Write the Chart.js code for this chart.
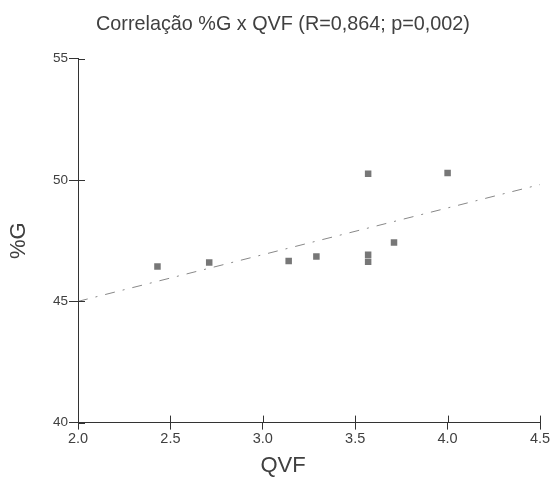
<!DOCTYPE html>
<html>
<head>
<meta charset="utf-8">
<script src="https://cdn.jsdelivr.net/npm/chart.js@4/dist/chart.umd.min.js"></script>
<style>
  body { margin: 0; background: #fff; }
  canvas { display: block; }
</style>
</head>
<body>
<canvas id="corrChart" width="554" height="486"></canvas>
<script>
// values
const qvf = [2.43, 2.71, 3.14, 3.29, 3.57, 3.57, 3.57, 3.71, 4.0];
const pctG = [46.44, 46.6, 46.66, 46.85, 50.26, 46.92, 46.63, 47.42, 50.29];
const xTicks = [2.0, 2.5, 3.0, 3.5, 4.0, 4.5];
const yTicks = [40, 45, 50, 55];
const titleText = "Correlação %G x QVF (R=0,864; p=0,002)";
const xTitle = "QVF";
const yTitle = "%G";

const fontFamily = "'Liberation Sans', Arial, sans-serif";
const textColor = "#404040";
const axisColor = "#333";

// least squares fit, drawn across the x axis range
const n = qvf.length;
const mx = qvf.reduce((a, b) => a + b, 0) / n;
const my = pctG.reduce((a, b) => a + b, 0) / n;
let sxy = 0, sxx = 0;
qvf.forEach((x, i) => {
  sxy += (x - mx) * (pctG[i] - my);
  sxx += (x - mx) * (x - mx);
});
const slope = sxy / sxx;
const intercept = my - slope * mx;
const xMin = xTicks[0];
const xMax = xTicks[xTicks.length - 1];
const fitLine = [xMin, xMax].map((x) => ({ x: x, y: intercept + slope * x }));

// tick marks that also cross into the plot area
const innerTicks = {
  id: "innerTicks",
  afterDraw(chart) {
    const { ctx, scales } = chart;
    ctx.save();
    ctx.strokeStyle = axisColor;
    ctx.lineWidth = 1;
    scales.x.ticks.forEach((t) => {
      const px = Math.round(scales.x.getPixelForValue(t.value)) + 0.5;
      ctx.beginPath();
      ctx.moveTo(px, scales.x.top);
      ctx.lineTo(px, scales.x.top - 7);
      ctx.stroke();
    });
    scales.y.ticks.forEach((t) => {
      const py = Math.round(scales.y.getPixelForValue(t.value)) + 0.5;
      ctx.beginPath();
      ctx.moveTo(scales.y.right, py);
      ctx.lineTo(scales.y.right + 7, py);
      ctx.stroke();
    });
    ctx.restore();
  },
};

const ctx = document.getElementById("corrChart").getContext("2d");
new Chart(ctx, {
  type: "scatter",
  data: {
    datasets: [
      {
        label: "%G",
        data: qvf.map((x, i) => ({ x: x, y: pctG[i] })),
        pointStyle: "rect",
        pointRadius: 4.6,
        backgroundColor: "#777",
        borderWidth: 0,
      },
      {
        type: "line",
        label: "fit",
        data: fitLine,
        borderColor: "#888",
        borderWidth: 1,
        borderDash: [10, 8, 2, 8],
        pointRadius: 0,
        fill: false,
      },
    ],
  },
  options: {
    responsive: false,
    animation: false,
    layout: { padding: { left: 26, right: 14, top: 0, bottom: 0 } },
    plugins: {
      legend: { display: false },
      tooltip: { enabled: false },
      title: {
        display: true,
        text: titleText,
        color: textColor,
        font: { family: fontFamily, size: 19.8, weight: "normal" },
        padding: { top: 13, bottom: 22 },
      },
      subtitle: {
        display: true,
        position: "bottom",
        text: xTitle,
        color: textColor,
        font: { family: fontFamily, size: 22, weight: "normal" },
        padding: { top: 3, bottom: 7 },
      },
    },
    scales: {
      x: {
        type: "linear",
        min: xMin,
        max: xMax,
        afterFit: (scale) => { scale.height = 27; },
        afterBuildTicks: (scale) => { scale.ticks = xTicks.map((v) => ({ value: v })); },
        ticks: {
          color: textColor,
          font: { family: fontFamily, size: 14.5 },
          padding: 1,
          maxRotation: 0,
          callback: (v) => Number(v).toFixed(1),
        },
        grid: {
          drawOnChartArea: false,
          tickLength: 7,
          tickColor: axisColor,
        },
        border: { color: axisColor, width: 1 },
      },
      y: {
        min: yTicks[0],
        max: yTicks[yTicks.length - 1],
        afterFit: (scale) => { scale.width = 52; },
        afterBuildTicks: (scale) => { scale.ticks = yTicks.map((v) => ({ value: v })); },
        ticks: {
          color: textColor,
          font: { family: fontFamily, size: 13.5 },
          padding: 1,
        },
        grid: {
          drawOnChartArea: false,
          tickLength: 9,
          tickColor: axisColor,
        },
        border: { color: axisColor, width: 1 },
        title: {
          display: true,
          text: yTitle,
          color: textColor,
          font: { family: fontFamily, size: 22 },
          padding: { top: -20, bottom: 0 },
        },
      },
    },
  },
  plugins: [innerTicks],
});
</script>
</body>
</html>
